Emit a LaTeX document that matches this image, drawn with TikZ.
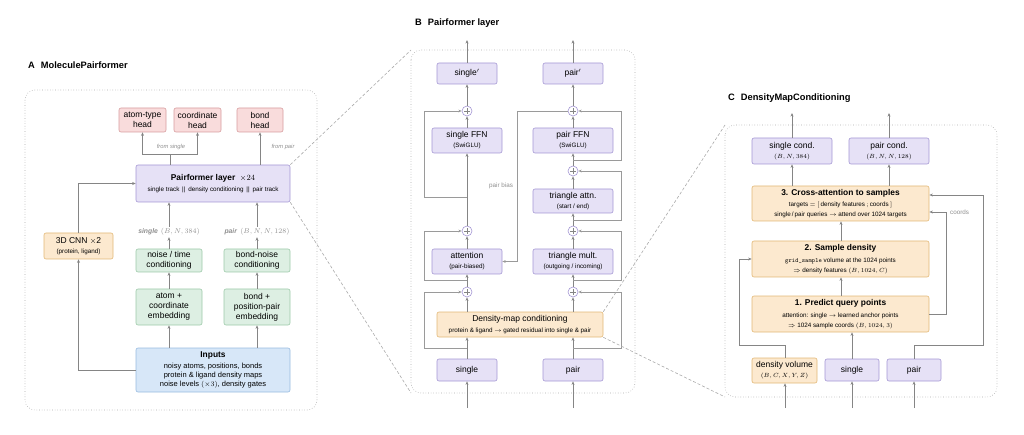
\documentclass[tikz,border=0pt]{standalone}
\usepackage[no-math]{fontspec}
\setmainfont{Liberation Sans}
\usetikzlibrary{arrows.meta}
\definecolor{lavF}{HTML}{E6E1F6}
\definecolor{lavD}{HTML}{A497D4}
\definecolor{pnkF}{HTML}{F9DCDC}
\definecolor{pnkD}{HTML}{D79C9E}
\definecolor{grnF}{HTML}{DDEFE3}
\definecolor{grnD}{HTML}{9CCAA9}
\definecolor{bluF}{HTML}{D7E7F8}
\definecolor{bluD}{HTML}{98BBE0}
\definecolor{orgF}{HTML}{FCE9CF}
\definecolor{orgD}{HTML}{E2B877}
\definecolor{arrC}{HTML}{858585}
\definecolor{resC}{HTML}{9A9A9A}
\definecolor{frmC}{HTML}{ABABAB}
\definecolor{lblC}{HTML}{8E8E8E}
\newcommand{\mainsz}{\fontsize{8.5}{10}\selectfont}
\newcommand{\subt}{\fontsize{6.3}{9}\selectfont}
\newcommand{\hdt}{\fontsize{8.4}{10}\selectfont\bfseries}
\newcommand{\cmsz}{\fontsize{6.5}{9}\selectfont}
\begin{document}
\begin{tikzpicture}[x=1pt,y=-1pt,
  bx/.style={draw, rounded corners=2pt, line width=0.6pt, inner sep=0pt, align=center, font=\mainsz, text=black},
  wh/.style 2 args={minimum width=#1pt, minimum height=#2pt},
  boxL/.style={bx, fill=lavF, draw=lavD},
  boxP/.style={bx, fill=pnkF, draw=pnkD},
  boxG/.style={bx, fill=grnF, draw=grnD},
  boxB/.style={bx, fill=bluF, draw=bluD},
  boxO/.style={bx, fill=orgF, draw=orgD},
  arr/.style={draw=arrC, line width=0.7pt, -{Stealth[length=3.6pt,width=3pt]}},
  res/.style={draw=resC, line width=0.6pt, -{Stealth[length=3.4pt,width=2.8pt]}},
  ln/.style={draw=arrC, line width=0.7pt},
  pframe/.style={draw=frmC, dotted, line width=0.6pt, rounded corners=10pt},
  zoomln/.style={draw=frmC, line width=0.6pt, dash pattern=on 3pt off 2pt},
  plus/.style={circle, draw=lavD, fill=white, minimum size=10pt, inner sep=0pt, line width=0.6pt,
    path picture={\draw[arrC, line width=0.5pt] (path picture bounding box.center) +(-2.6pt,0) -- +(2.6pt,0)
      (path picture bounding box.center) +(0,-2.6pt) -- +(0,2.6pt);}},
  lblS/.style={font=\fontsize{6.8}{8}\selectfont, text=lblC, inner sep=1.5pt},
  lblF/.style={font=\fontsize{5.8}{7}\selectfont\itshape, text=lblC, inner sep=1pt},
  lblG/.style={font=\fontsize{6.3}{7}\selectfont, text=lblC, inner sep=1pt},
  ttl/.style={font=\fontsize{9.3}{11}\selectfont\bfseries, anchor=west, inner sep=0pt}
]
\useasboundingbox (0,0) rectangle (1024,435);

% ================= Panel A =================
\node[ttl] (tA) at (28,65) {A\hspace{6pt}MoleculePairformer};
\draw[pframe] (25,90) rectangle (317,410);
\node[boxP, wh={47}{24}] (hA) at (142.5,120) {atom-type\\head};
\node[boxP, wh={47}{24}] (hC) at (197.5,120) {coordinate\\head};
\node[boxP, wh={46}{24}] (hB) at (260,120) {bond\\head};
\node[boxL, wh={154}{37}] (pfl) at (213,183.5) {\hdt Pairformer layer\ \ \normalfont$\times 24$\\[1pt]\subt single track\, ||\, density conditioning\, ||\, pair track};
\node[boxO, wh={69}{26}] (cnn) at (78.5,246) {3D CNN $\times$2\\\subt (protein, ligand)};
\node[boxG, wh={66}{23}] (nt) at (169,260.5) {noise / time\\conditioning};
\node[boxG, wh={66}{23}] (bn) at (257,260.5) {bond-noise\\conditioning};
\node[boxG, wh={66}{36}] (ae) at (169,307) {atom +\\coordinate\\embedding};
\node[boxG, wh={66}{36}] (be) at (257,307) {bond +\\position-pair\\embedding};
\node[boxB, wh={154}{44}, font=\fontsize{7.5}{9.2}\selectfont] (inp) at (213,370) {\hdt Inputs\\[1.5pt]
  \fontsize{7.5}{9.2}\selectfont noisy atoms, positions, bonds\\
  \fontsize{7.5}{9.2}\selectfont protein \& ligand density maps\\
  \fontsize{7.5}{9.2}\selectfont noise levels $(\times 3)$, density gates};
\node[lblS] (sl) at (169,232) {\textbf{\textit{single}}\, $(B,N,384)$};
\node[lblS] (pl) at (257,232) {\textbf{\textit{pair}}\, $(B,N,N,128)$};

\draw[arr] (inp.north -| ae) -- (ae.south);
\draw[arr] (inp.north -| be) -- (be.south);
\draw[arr] (ae.north) -- (nt.south);
\draw[arr] (be.north) -- (bn.south);
\draw[arr] (nt.north) -- (sl.south);
\draw[arr] (bn.north) -- (pl.south);
\draw[arr] (sl.north) -- (pfl.south -| sl);
\draw[arr] (pl.north) -- (pfl.south -| pl);
\draw[arr] (inp.west) -| (cnn.south);
\draw[arr] (cnn.north) |- (pfl.west);
\coordinate (hs) at (170,154);
\draw[ln] (pfl.north -| hs) -- (hs);
\draw[arr] (hs) -| (hA.south);
\draw[arr] (hs) -| (hC.south);
\draw[arr] (pfl.north -| hB) -- (hB.south);
\node[lblF] (fs) at (171,147) {from single};
\node[lblF] (fp) at (283,147) {from pair};

% ================= Panel B =================
\node[ttl] (tB) at (415,23) {B\hspace{6pt}Pairformer layer};
\coordinate (Btl) at (411,50);
\coordinate (Bbr) at (635,393);
\coordinate (Bbl) at (411,393);
\draw[pframe] (Btl) rectangle (Bbr);

\node[boxL, wh={60}{21}] (spr) at (467,73.5) {single$'$};
\node[boxL, wh={60}{21}] (ppr) at (573,73.5) {pair$'$};
\node[boxL, wh={70}{25}] (sffn) at (467,140.5) {single FFN\\\subt (SwiGLU)};
\node[boxL, wh={80}{25}] (pffn) at (573,140.5) {pair FFN\\\subt (SwiGLU)};
\node[boxL, wh={80}{24}] (tat) at (573,201) {triangle attn.\\\subt (start / end)};
\node[boxL, wh={70}{25}] (att) at (467,261.5) {attention\\\subt (pair-biased)};
\node[boxL, wh={80}{25}] (tmu) at (573,261.5) {triangle mult.\\\subt (outgoing / incoming)};
\node[boxO, wh={166}{25}] (dmc) at (520,324.5) {Density-map conditioning\\[1pt]\subt protein \& ligand $\rightarrow$ gated residual into single \& pair};
\node[boxL, wh={60}{22}] (sin) at (467,370) {single};
\node[boxL, wh={60}{22}] (pin) at (573,370) {pair};

\node[plus] (s1) at (467,111) {};
\node[plus] (s2) at (467,231) {};
\node[plus] (s3) at (467,292) {};
\node[plus] (p1) at (573,111) {};
\node[plus] (p2) at (573,171) {};
\node[plus] (p3) at (573,231) {};
\node[plus] (p4) at (573,292) {};

\coordinate (sIn) at (467,408);
\coordinate (pIn) at (573,408);
\coordinate (sOut) at (467,40);
\coordinate (pOut) at (573,40);
\draw[arr] (sIn) -- (sin.south);
\draw[arr] (pIn) -- (pin.south);
\draw[arr] (spr.north) -- (sOut);
\draw[arr] (ppr.north) -- (pOut);

% single stream
\draw[arr] (sin.north) -- (dmc.south -| sin);
\draw[arr] (dmc.north -| s3) -- (s3.south);
\draw[arr] (s3.north) -- (att.south);
\draw[arr] (att.north) -- (s2.south);
\draw[arr] (s2.north) -- (sffn.south);
\draw[arr] (sffn.north) -- (s1.south);
\draw[arr] (s1.north) -- (spr.south);
% pair stream
\draw[arr] (pin.north) -- (dmc.south -| pin);
\draw[arr] (dmc.north -| p4) -- (p4.south);
\draw[arr] (p4.north) -- (tmu.south);
\draw[arr] (tmu.north) -- (p3.south);
\draw[arr] (p3.north) -- (tat.south);
\draw[arr] (tat.north) -- (p2.south);
\draw[arr] (p2.north) -- (pffn.south);
\draw[arr] (pffn.north) -- (p1.south);
\draw[arr] (p1.north) -- (ppr.south);

% residuals single side
\coordinate (rs3) at (467,348); \coordinate (ls3) at (424,348);
\coordinate (rs2) at (467,280); \coordinate (ls2) at (424,280);
\coordinate (rs1) at (467,197); \coordinate (ls1) at (424,197);
\draw[res] (rs3) -- (ls3) |- (s3.west);
\draw[res] (rs2) -- (ls2) |- (s2.west);
\draw[res] (rs1) -- (ls1) |- (s1.west);
% residuals pair side
\coordinate (rp4) at (573,348); \coordinate (lp4) at (621,348);
\coordinate (rp3) at (573,280); \coordinate (lp3) at (621,280);
\coordinate (rp2) at (573,220); \coordinate (lp2) at (621,220);
\coordinate (rp1) at (573,160); \coordinate (lp1) at (621,160);
\draw[res] (rp4) -- (lp4) |- (p4.east);
\draw[res] (rp3) -- (lp3) |- (p3.east);
\draw[res] (rp2) -- (lp2) |- (p2.east);
\draw[res] (rp1) -- (lp1) |- (p1.east);
% pair bias
\coordinate (pb) at (517,111);
\draw[res] (p1.west) -- (pb) |- (att.east);
\node[lblG] (pbl) at (501,186) {pair bias};

% ================= Panel C =================
\node[ttl] (tC) at (728,98) {C\hspace{6pt}DensityMapConditioning};
\coordinate (Ctl) at (725,125);
\coordinate (Cbr) at (997,397);
\coordinate (Cbl) at (725,397);
\draw[pframe] (Ctl) rectangle (Cbr);

\node[boxL, wh={80}{26}] (sc) at (792,151) {single cond.\\\cmsz$(B,N,384)$};
\node[boxL, wh={80}{26}] (pc) at (889,151) {pair cond.\\\cmsz$(B,N,N,128)$};
\node[boxO, wh={177}{35}] (ca) at (840.5,203.5) {\hdt 3. Cross-attention to samples\\[1.5pt]
  \subt targets $=$ $[\,$density features$\,;\,$coords$\,]$\\
  \subt single\,/\,pair queries $\rightarrow$ attend over 1024 targets};
\node[boxO, wh={177}{36}] (sd) at (840.5,259) {\hdt 2. Sample density\\[1.5pt]
  \subt {\ttfamily grid\_sample} volume at the 1024 points\\
  \subt $\Rightarrow$ density features $(B,1024,C)$};
\node[boxO, wh={177}{36}] (pq) at (840.5,314) {\hdt 1. Predict query points\\[1.5pt]
  \subt attention: single $\rightarrow$ learned anchor points\\
  \subt $\Rightarrow$ 1024 sample coords $(B,1024,3)$};
\node[boxO, wh={65}{25}] (dv) at (784.5,370.5) {density volume\\\cmsz$(B,C,X,Y,Z)$};
\node[boxL, wh={54}{22}] (cs) at (852,370) {single};
\node[boxL, wh={54}{22}] (cpn) at (914,370) {pair};

\coordinate (scOut) at (792,113);
\coordinate (pcOut) at (889,113);
\draw[arr] (sc.north) -- (scOut);
\draw[arr] (pc.north) -- (pcOut);
\draw[arr] (ca.north -| sc) -- (sc.south);
\draw[arr] (ca.north -| pc) -- (pc.south);
\coordinate (colm) at (841,300);
\draw[arr] (sd.north -| colm) -- (ca.south -| colm);
\draw[arr] (pq.north -| colm) -- (sd.south -| colm);
\draw[arr] (cs.north) -- (pq.south -| cs);
\coordinate (dv1) at (785,345); \coordinate (dv2) at (739,259);
\draw[arr] (dv.north -| dv1) -- (dv1) -| (dv2) -- (sd.west);
\coordinate (cp1) at (914,345); \coordinate (cp2) at (983,195);
\draw[arr] (cpn.north) -- (cp1) -| (cp2) -- (ca.east |- cp2);
\coordinate (cr1) at (946,314); \coordinate (cr2) at (946,212);
\draw[arr] (pq.east) -- (cr1) -- (cr2) -- (ca.east |- cr2);
\node[lblG, anchor=west] (crd) at (949,212) {coords};
\coordinate (dvIn) at (785,408);
\coordinate (csIn) at (852,408);
\coordinate (cpIn) at (914,408);
\draw[arr] (dvIn) -- (dv.south -| dvIn);
\draw[arr] (csIn) -- (cs.south);
\draw[arr] (cpIn) -- (cpn.south);

% ================= zoom lines =================
\draw[zoomln] (pfl.north east) -- (Btl);
\draw[zoomln] (pfl.south east) -- (Bbl);
\draw[zoomln] (dmc.north east) -- (Ctl);
\draw[zoomln] (dmc.south east) -- (Cbl);
\end{tikzpicture}
\end{document}
